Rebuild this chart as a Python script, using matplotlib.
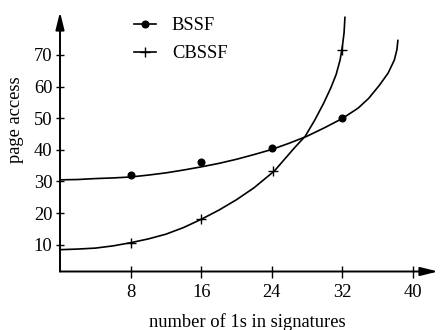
import matplotlib
matplotlib.use("Agg")
import matplotlib.pyplot as plt

# ---- data ----
bssf_curve_x = [0, 2, 4, 6, 8, 10, 12, 14, 16, 18, 20, 22, 24, 26, 28, 30, 32,
                33.8, 35.0, 36.2, 37.2, 37.9, 38.2, 38.3]
bssf_curve_y = [30.5, 30.6, 30.9, 31.1, 31.4, 32.0, 32.7, 33.6, 34.6, 35.7, 37.0, 38.5, 40.1,
                42.1, 44.3, 47.0, 49.9, 53.2, 56.3, 60.4, 64.3, 68.4, 71.8, 74.6]
cbssf_curve_x = [0, 2, 4, 6, 8, 10, 12, 14, 16, 18, 20, 22, 24.3, 26.6, 27.8, 28.9, 29.9,
                 30.7, 31.3, 31.75, 32.0, 32.2, 32.3]
cbssf_curve_y = [8.4, 8.6, 8.9, 9.6, 10.6, 11.8, 13.3, 15.4, 18.0, 20.9, 24.2, 28.0, 33.3,
                 40.7, 44.3, 49.5, 54.8, 59.6, 63.8, 68.4, 72.5, 77.0, 81.9]
bssf_pts_x = [8, 16, 24, 32]
bssf_pts_y = [32.0, 36.1, 40.5, 50.0]
cbssf_pts_x = [8, 16, 24.2, 32]
cbssf_pts_y = [10.6, 18.0, 33.3, 71.6]
x_ticks = [8, 16, 24, 32, 40]
y_ticks = [10, 20, 30, 40, 50, 60, 70]
series_names = ["BSSF", "CBSSF"]
x_label = "number of 1s in signatures"
y_label = "page access"

plt.rcParams['font.family'] = ['Liberation Serif', 'DejaVu Serif']
FS = 13.3

W, H = 440, 330
fig = plt.figure(figsize=(W / 100, H / 100), dpi=100)
ax = fig.add_axes([60 / W, 58.5 / H, (438 - 60) / W, (318 - 58.5) / H])
ax.set_xlim(0, 42.85)
ax.set_ylim(1.5, 83.6)
for s in ax.spines.values():
    s.set_visible(False)

# axes with arrowheads
arrow_kw = dict(arrowstyle='-|>,head_length=10.5,head_width=2.6', mutation_scale=1,
                color='black', lw=1.4, shrinkA=0, shrinkB=0)
ax.annotate('', xy=(1, 0), xytext=(0, 0), xycoords='axes fraction',
            textcoords='axes fraction', arrowprops=arrow_kw, annotation_clip=False)
ax.annotate('', xy=(0, 1), xytext=(0, 0), xycoords='axes fraction',
            textcoords='axes fraction', arrowprops=arrow_kw, annotation_clip=False)

ax.set_xticks(x_ticks)
ax.set_yticks(y_ticks)
ax.tick_params(axis='x', direction='inout', length=8.6, width=1.0, pad=5, labelsize=FS)
ax.tick_params(axis='y', direction='inout', length=5.8, width=1.0, pad=2.5, labelsize=FS)

# curves
ax.plot(bssf_curve_x, bssf_curve_y, color='black', lw=1.2, clip_on=False,
        solid_joinstyle='round')
ax.plot(cbssf_curve_x, cbssf_curve_y, color='black', lw=1.2, clip_on=False,
        solid_joinstyle='round')
# markers
ax.plot(bssf_pts_x, bssf_pts_y, 'o', color='black', ms=4.8, clip_on=False)
ax.plot(cbssf_pts_x, cbssf_pts_y, '+', color='black', ms=6.5, mew=1.0, clip_on=False)

# legend
h1, = ax.plot([], [], '-o', color='black', lw=1.2, ms=4.8)
h2, = ax.plot([], [], '-+', color='black', lw=1.2, ms=6.5, mew=1.0)
ax.legend([h1, h2], series_names, loc='upper left', frameon=False, fontsize=FS,
          bbox_to_anchor=(134 / W, 1 - 17 / H), bbox_transform=fig.transFigure,
          borderpad=0, borderaxespad=0, handlelength=1.2, handletextpad=0.85,
          labelspacing=0.62)

fig.text(16 / W, 1 - 120 / H, y_label, rotation=90, ha='center', va='center', fontsize=FS)
fig.text(247 / W, 1 - 327 / H, x_label, ha='center', va='baseline', fontsize=FS)

fig.savefig('out.png', dpi=100)
